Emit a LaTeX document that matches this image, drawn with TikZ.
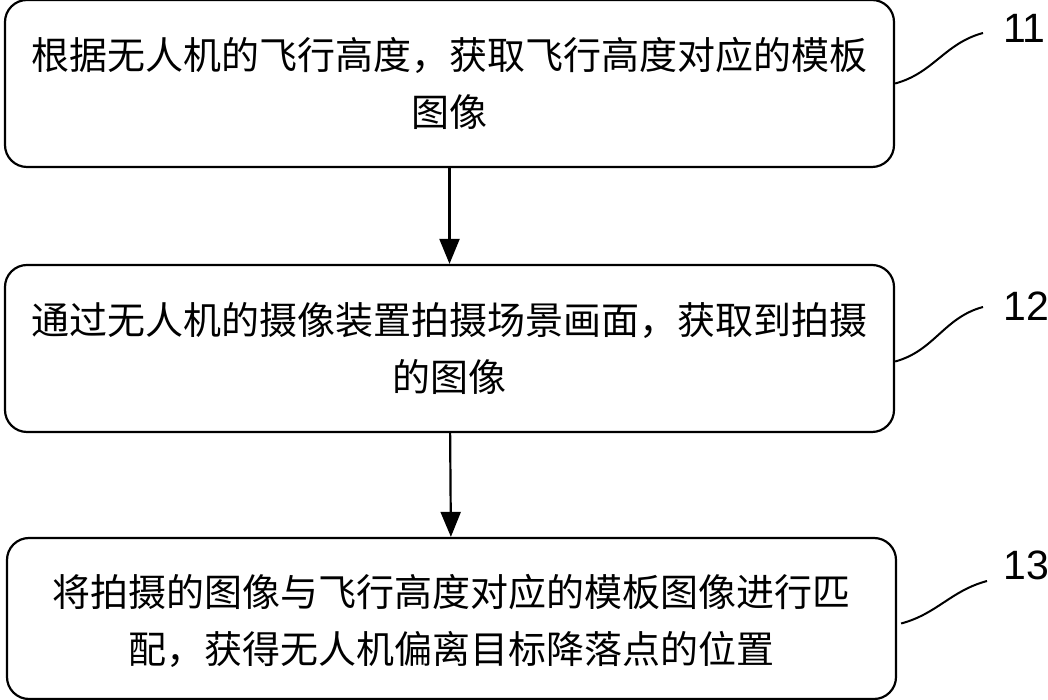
\documentclass[tikz,border=0pt]{standalone}
\usepackage{fontspec}
\usepackage{tikz}
\usetikzlibrary{arrows.meta}
\setmainfont{Liberation Sans}
\newfontfamily\cjk{Noto Sans CJK SC}

\tikzset{
stepbox/.style={draw,line width=2.2pt,rounded corners=22pt,minimum width=889pt,align=center,
  font=\cjk\fontsize{38}{57}\selectfont},
leader/.style={line width=2pt},
flow/.style={line width=2.2pt,-{Triangle[length=25pt,width=20pt]}},
tag/.style={font=\fontsize{41}{41}\selectfont,anchor=west,inner sep=0pt}
}

\begin{document}
\begin{tikzpicture}[x=1pt,y=1pt]
\useasboundingbox (0,0) rectangle (1048,700);
\node[stepbox,minimum height=167pt] (b1) at (449.5,616.5) {根据无人机的飞行高度，获取飞行高度对应的模板\\图像};
\node[stepbox,minimum height=167pt] (b2) at (449.5,351.5) {通过无人机的摄像装置拍摄场景画面，获取到拍摄\\的图像};
\node[stepbox,minimum height=161pt,text depth=0pt] (b3) at (451.5,81.5) {将拍摄的图像与飞行高度对应的模板图像进行匹\\配，获得无人机偏离目标降落点的位置};
\draw[flow] (b1) -- (b2);
\draw[flow] (b2) -- (b3);
% labels on the right
\node[tag] (t11) at (1003,672) {11};
\node[tag] (t12) at (1003,394) {12};
\node[tag] (t13) at (1003,135) {13};
\coordinate (e11) at (983,667);
\coordinate (e12) at (983,393);
\coordinate (e13) at (987,119);
\draw[leader] (b1.east) to[out=15,in=195] (e11);
\draw[leader] ([yshift=-13pt]b2.east) to[out=15,in=195] (e12);
\draw[leader] ([xshift=4pt,yshift=-5pt]b3.east) to[out=15,in=195] (e13);
\end{tikzpicture}
\end{document}
